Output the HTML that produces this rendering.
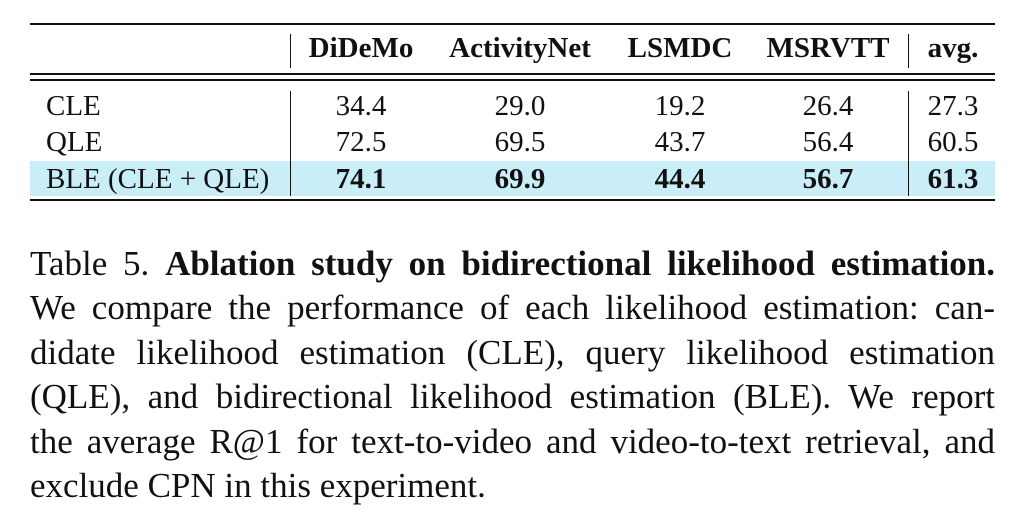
<!DOCTYPE html>
<html><head><meta charset="utf-8"><style>
body{margin:0;background:#fff;width:1024px;height:526px;overflow:hidden;position:relative;font-family:"Liberation Serif",serif;color:#111}
.a{position:absolute}
.r{position:absolute;left:30px;width:965px;background:#111}
.t{position:absolute;font-size:29px;line-height:30px;white-space:nowrap}
.c{transform:translateX(-50%)}
.b{font-weight:bold}
.cap{position:absolute;left:30px;width:965px;font-size:35px;line-height:44.4px}
.cap div{text-align:justify;text-align-last:justify;white-space:nowrap}
</style></head><body>
<div class="a" style="left:30px;top:161px;width:965px;height:35px;background:#c9eef8"></div>
<div class="r" style="top:23px;height:2px"></div>
<div class="r" style="top:73px;height:1.5px"></div>
<div class="r" style="top:79px;height:1.5px"></div>
<div class="r" style="top:199px;height:2px"></div>
<div class="a" style="left:290px;top:34px;width:1px;height:34px;background:#111"></div>
<div class="a" style="left:290px;top:91px;width:1px;height:105px;background:#111"></div>
<div class="a" style="left:908px;top:34px;width:1px;height:34px;background:#111"></div>
<div class="a" style="left:908px;top:91px;width:1px;height:105px;background:#111"></div>

<div class="t b c" style="left:361px;top:33px">DiDeMo</div>
<div class="t b c" style="left:520px;top:33px">ActivityNet</div>
<div class="t b c" style="left:680px;top:33px">LSMDC</div>
<div class="t b c" style="left:828px;top:33px">MSRVTT</div>
<div class="t b c" style="left:953px;top:33px">avg.</div>

<div class="t" style="left:46px;top:91px">CLE</div>
<div class="t c" style="left:361px;top:91px">34.4</div>
<div class="t c" style="left:520px;top:91px">29.0</div>
<div class="t c" style="left:680px;top:91px">19.2</div>
<div class="t c" style="left:828px;top:91px">26.4</div>
<div class="t c" style="left:953px;top:91px">27.3</div>

<div class="t" style="left:46px;top:127px">QLE</div>
<div class="t c" style="left:361px;top:127px">72.5</div>
<div class="t c" style="left:520px;top:127px">69.5</div>
<div class="t c" style="left:680px;top:127px">43.7</div>
<div class="t c" style="left:828px;top:127px">56.4</div>
<div class="t c" style="left:953px;top:127px">60.5</div>

<div class="t" style="left:46px;top:164px">BLE (CLE + QLE)</div>
<div class="t b c" style="left:361px;top:164px">74.1</div>
<div class="t b c" style="left:520px;top:164px">69.9</div>
<div class="t b c" style="left:680px;top:164px">44.4</div>
<div class="t b c" style="left:828px;top:164px">56.7</div>
<div class="t b c" style="left:953px;top:164px">61.3</div>

<div class="cap" style="top:242px">
<div>Table 5. <b>Ablation study on bidirectional likelihood estimation.</b></div>
<div>We compare the performance of each likelihood estimation: can-</div>
<div>didate likelihood estimation (CLE), query likelihood estimation</div>
<div>(QLE), and bidirectional likelihood estimation (BLE). We report</div>
<div>the average R@1 for text-to-video and video-to-text retrieval, and</div>
<div style="text-align:left;text-align-last:left">exclude CPN in this experiment.</div>
</div>
</body></html>
